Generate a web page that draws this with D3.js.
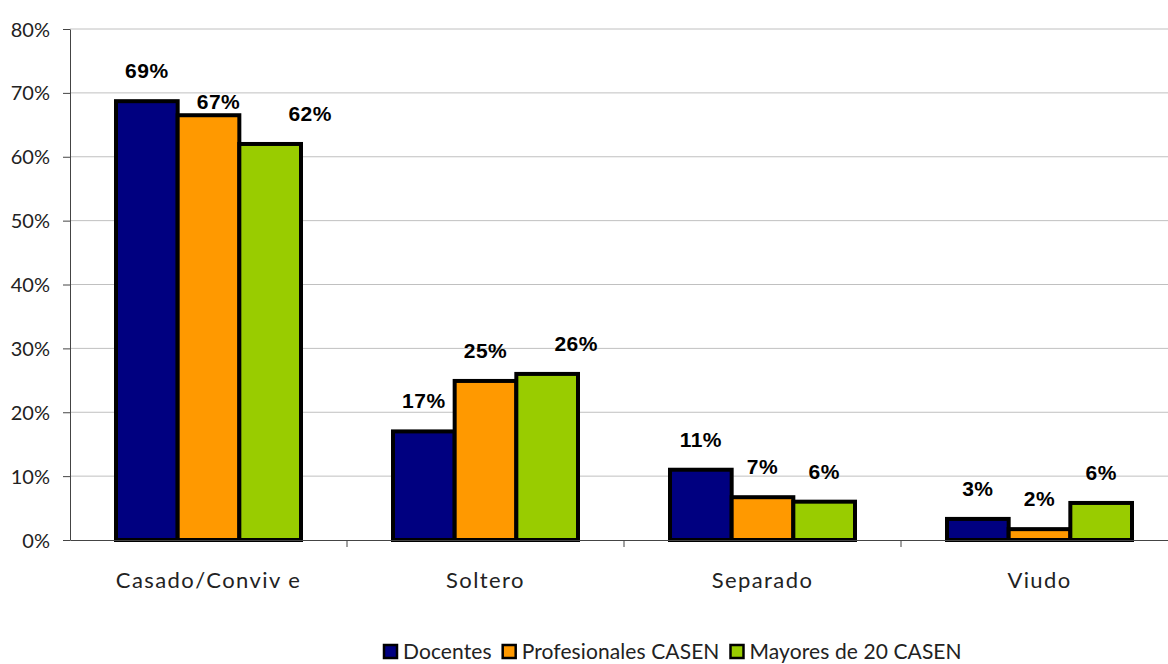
<!DOCTYPE html>
<html lang="es">
<head>
<meta charset="UTF-8">
<title>Estado civil</title>
<script src="https://cdnjs.cloudflare.com/ajax/libs/d3/7.8.5/d3.min.js"></script>
<style>
    body { margin: 0; background: #fff; }
    svg { display: block; }
    .tick text { font-family: "Lato", "DejaVu Sans", sans-serif; fill: #222; }
</style>
</head>
<body>
<svg width="1168" height="664"></svg>
<script>
// data
const categories = ["Casado/Conviv e", "Soltero", "Separado", "Viudo"];
const seriesNames = ["Docentes", "Profesionales CASEN", "Mayores de 20 CASEN"];
const docentes = [68.7, 17.0, 11.0, 3.3];
const profesionales = [66.5, 24.9, 6.7, 1.7];
const mayores = [62.0, 26.0, 6.0, 5.8];
const docLabels = ["69%", "17%", "11%", "3%"];
const profLabels = ["67%", "25%", "7%", "2%"];
const mayLabels = ["62%", "26%", "6%", "6%"];
const yTicks = [0, 10, 20, 30, 40, 50, 60, 70, 80];

const colors = ["#000080", "#FF9900", "#99CC00"];
const values = [docentes, profesionales, mayores];
const valueLabels = [docLabels, profLabels, mayLabels];

// plot area runs a little past the right edge, like the original
const margin = {top: 29, right: -10, bottom: 124, left: 70};
const width = 1168 - margin.left - margin.right;
const height = 664 - margin.top - margin.bottom;

const svg = d3.select("svg");
const g = svg.append("g").attr("transform", `translate(${margin.left},${margin.top})`);

const x0 = d3.scaleBand().domain(categories).range([0, width]).paddingInner(0).paddingOuter(0);
const x1 = d3.scaleBand().domain(seriesNames).range([46, x0.bandwidth() - 46]).padding(0);
const y = d3.scaleLinear().domain([0, 80]).range([height, 0]);

// gridlines
g.append("g")
    .selectAll("line")
    .data(yTicks.slice(1))
    .enter().append("line")
    .attr("x1", 0).attr("x2", width)
    .attr("y1", d => y(d)).attr("y2", d => y(d))
    .attr("stroke", "#c0c0c0").attr("stroke-width", 1);

// bars
seriesNames.forEach((s, si) => {
    g.append("g").selectAll("rect")
        .data(categories.map((c, ci) => ({c, v: values[si][ci]})))
        .enter().append("rect")
        .attr("x", d => x0(d.c) + x1(s))
        .attr("y", d => y(d.v))
        .attr("width", x1.bandwidth())
        .attr("height", d => y(0) - y(d.v))
        .attr("fill", colors[si])
        .attr("stroke", "#000")
        .attr("stroke-width", 4);
});

// value labels (some nudged as in the original)
const nudge = {"0-1": [10, 17], "0-2": [40, 0], "1-2": [29, 0]};
seriesNames.forEach((s, si) => {
    categories.forEach((c, ci) => {
        const n = nudge[ci + "-" + si] || [0, 0];
        g.append("text")
            .attr("x", x0(c) + x1(s) + x1.bandwidth() / 2 + n[0])
            .attr("y", y(values[si][ci]) - 23 + n[1])
            .attr("text-anchor", "middle")
            .attr("font-family", "Liberation Sans, Arial, sans-serif")
            .attr("font-weight", "bold")
            .attr("font-size", 21)
            .attr("letter-spacing", 0.5)
            .attr("fill", "#000")
            .text(valueLabels[si][ci]);
    });
});

// y axis
const yAxis = g.append("g")
    .call(d3.axisLeft(y).tickValues(yTicks).tickFormat(d => d + "%").tickSize(7).tickSizeOuter(0));
yAxis.select(".domain").attr("stroke", "#444");
yAxis.selectAll(".tick line").attr("stroke", "#444");
yAxis.selectAll(".tick text").attr("font-size", 20).attr("x", -20).attr("dy", "0.35em");

// x axis
const xAxis = g.append("g")
    .attr("transform", `translate(0,${height})`)
    .call(d3.axisBottom(x0).tickSize(0).tickSizeOuter(0));
xAxis.select(".domain").attr("stroke", "#444");
xAxis.selectAll(".tick text").attr("font-size", 22).attr("letter-spacing", 1.4)
    .attr("dy", 0).attr("y", 48);
g.append("g").selectAll("line")
    .data(categories)
    .enter().append("line")
    .attr("x1", d => x0(d) + x0.bandwidth())
    .attr("x2", d => x0(d) + x0.bandwidth())
    .attr("y1", height).attr("y2", height + 7)
    .attr("stroke", "#444");

// legend
const legend = svg.append("g").attr("transform", "translate(383,644)");
let lx = 0;
seriesNames.forEach((s, i) => {
    const item = legend.append("g").attr("transform", `translate(${lx},0)`);
    item.append("rect").attr("x", 1).attr("y", 1).attr("width", 13).attr("height", 13)
        .attr("fill", colors[i]).attr("stroke", "#000").attr("stroke-width", 2.5);
    const t = item.append("text").attr("x", 20).attr("y", 15)
        .attr("font-family", "Lato, DejaVu Sans, sans-serif")
        .attr("font-size", 21).attr("letter-spacing", 0.1)
        .attr("fill", "#222").text(s);
    lx += 20 + t.node().getComputedTextLength() + 10;
});
</script>
</body>
</html>
